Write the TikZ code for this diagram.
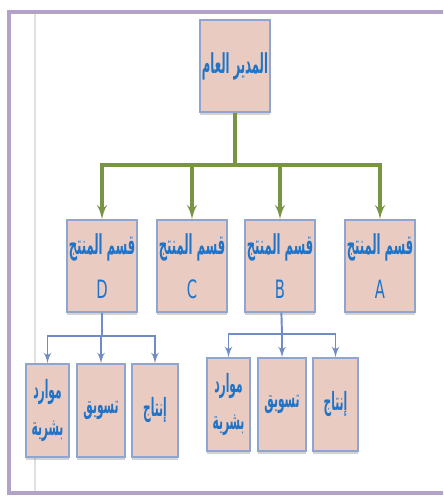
\documentclass[tikz,border=0pt]{standalone}
\usepackage{fontspec}
\newfontfamily\arabicfont[Script=Arabic]{DejaVu Sans}
\TeXXeTstate=1
\usetikzlibrary{arrows,shadows}
\definecolor{boxfill}{HTML}{EACBC1}
\definecolor{boxline}{HTML}{8EA5D0}
\definecolor{txtblue}{HTML}{1F74C8}
\definecolor{topline}{HTML}{7A9446}
\definecolor{subline}{HTML}{6F8CC4}
\definecolor{frameline}{HTML}{B3A2C7}
\newcommand{\artxt}[1]{\scalebox{0.55}[1.3]{\arabicfont\bfseries\beginR #1\endR}}
\newcommand{\lttxt}[1]{\scalebox{0.7}[1.2]{\arabicfont #1}}

\begin{document}
\begin{tikzpicture}[x=0.02cm,y=-0.02cm]
\tikzset{box/.style = {shape=rectangle,draw=boxline,fill=boxfill,line width=0.8pt,
  text=txtblue,align=center,inner sep=1pt,font={\fontsize{12}{25}\selectfont},
  drop shadow={shadow xshift=0pt,shadow yshift=-1.5pt,opacity=0.35}}}
\tikzset{bigbox/.style = {box,minimum width=1.26cm,minimum height=1.84cm}}
\tikzset{smallbox/.style = {box,minimum height=1.86cm,font={\fontsize{11}{21}\selectfont}}}
\tikzset{greenedge/.style = {draw=topline,line width=1.8pt}}
\tikzset{blueedge/.style = {draw=subline,line width=1.1pt}}
\tikzset{edge/.style = {->,> = latex'}}
\clip (0,0) rectangle (443,496);
% frame
\draw[frameline,line width=2.4pt] (9,12) rectangle (480,493);
\draw[black!12,line width=0.6pt] (35,14) -- (35,491);
% vertices
\node[bigbox] (ceo) at (235,66) {\artxt{المدير العام}};
\node[bigbox] (prodD) at (102,266) {\artxt{قسم المنتج}\\\lttxt{D}};
\node[bigbox] (prodC) at (192,266) {\artxt{قسم المنتج}\\\lttxt{C}};
\node[bigbox] (prodB) at (280,266) {\artxt{قسم المنتج}\\\lttxt{B}};
\node[bigbox] (prodA) at (380,266) {\artxt{قسم المنتج}\\\lttxt{A}};
\node[smallbox,minimum width=0.86cm] (hrD) at (47.5,410.5) {\artxt{موارد}\\\artxt{بشرية}};
\node[smallbox,minimum width=0.96cm] (mktD) at (101,410.5) {\artxt{تسويق}};
\node[smallbox,minimum width=0.92cm] (prdD) at (155,410.5) {\artxt{إنتاج}};
\node[smallbox,minimum width=0.86cm] (hrB) at (228.5,404.5) {\artxt{موارد}\\\artxt{بشرية}};
\node[smallbox,minimum width=0.96cm] (mktB) at (282,404.5) {\artxt{تسويق}};
\node[smallbox,minimum width=0.9cm] (prdB) at (335.5,404.5) {\artxt{إنتاج}};
% junctions
\coordinate (hubTop) at (235,165);
\coordinate (hubD) at (102,336);
\coordinate (hubB) at (282,334);
%edges
\draw[greenedge] (ceo) -- (hubTop);
\draw[greenedge,edge] (hubTop) -| (prodA);
\draw[greenedge,edge] (hubTop) -| (prodB);
\draw[greenedge,edge] (hubTop) -| (prodC);
\draw[greenedge,edge] (hubTop) -| (prodD);
\draw[blueedge] (prodD) -- (hubD);
\draw[blueedge,edge] (hubD) -| (hrD);
\draw[blueedge,edge] (hubD) -| (mktD);
\draw[blueedge,edge] (hubD) -| (prdD);
\draw[blueedge] (prodB) -- (hubB);
\draw[blueedge,edge] (hubB) -| (hrB);
\draw[blueedge,edge] (hubB) -| (mktB);
\draw[blueedge,edge] (hubB) -| (prdB);
\end{tikzpicture}
\end{document}
